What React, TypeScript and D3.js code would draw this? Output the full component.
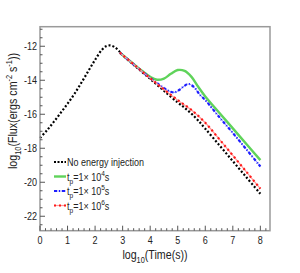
import React from 'react';
import * as d3 from 'd3';

// log10(Time) grid and log10(Flux) values
const noInjX = [0, 0.25, 0.5, 0.75, 1, 1.25, 1.5, 1.75, 2, 2.25, 2.4, 2.55, 2.7, 2.85, 3, 3.5, 4, 4.5, 5, 5.25, 5.5, 5.75, 6, 6.5, 7, 7.5, 8];
const noInjY = [-17.4, -16.95, -16.45, -15.92, -15.38, -14.8, -14.15, -13.47, -12.8, -12.2, -12.0, -11.95, -12.04, -12.25, -12.52, -13.23, -13.92, -14.62, -15.31, -15.62, -15.97, -16.38, -16.85, -17.8, -18.76, -19.72, -20.68];

const tp4X = [2.9, 3.5, 3.75, 4, 4.25, 4.5, 4.75, 5, 5.25, 5.5, 5.75, 6, 6.5, 7, 7.5, 8];
const tp4Y = [-12.38, -13.18, -13.5, -13.8, -13.97, -13.9, -13.62, -13.4, -13.45, -13.8, -14.4, -14.95, -15.9, -16.83, -17.77, -18.7];

const tp5X = [2.9, 3.5, 4, 4.25, 4.5, 4.75, 4.9, 5.1, 5.25, 5.4, 5.6, 5.8, 6, 6.5, 7, 7.5, 8];
const tp5Y = [-12.38, -13.2, -13.87, -14.17, -14.46, -14.68, -14.71, -14.52, -14.32, -14.22, -14.42, -14.85, -15.17, -16.15, -17.1, -18.08, -19.07];

const tp6X = [2.9, 3.5, 4, 4.5, 5, 5.5, 6, 6.5, 7, 7.5, 8];
const tp6Y = [-12.38, -13.2, -13.88, -14.54, -15.17, -15.75, -16.5, -17.45, -18.42, -19.4, -20.38];

const xTicks = [0, 1, 2, 3, 4, 5, 6, 7, 8];
const yTicks = [-22, -20, -18, -16, -14, -12];
const tpExp = ['4', '5', '6'];

const font = "'Liberation Sans', Arial, sans-serif";

// narrow text like the original Helvetica condensed
const NText = ({ x, y, rotate = 0, size, anchor = 'start', children }: any) => (
  <g transform={`translate(${x},${y}) rotate(${rotate}) scale(0.82,1)`}>
    <text fontSize={size} textAnchor={anchor} fill="#222">{children}</text>
  </g>
);

const App = () => {
  const width = 300;
  const height = 273;
  const x = d3.scaleLinear().domain([0, 8.35]).range([40, 270]);
  const y = d3.scaleLinear().domain([-22.85, -10.85]).range([230.7, 26.7]);

  const line = d3.line<number>()
    .x(d => x(d))
    .curve(d3.curveCatmullRom.alpha(0.5));
  const path = (xs: number[], ys: number[]) =>
    line.y((d, i) => y(ys[i]))(xs) || '';

  const xMinor = d3.range(0, 8.35, 0.2);
  const yMinor = d3.range(-22.5, -10.85, 0.5);

  const legendY = [162, 176.5, 191, 205.5];

  return (
    <svg width={width} height={height} style={{ position: 'absolute', left: 0, top: 0, background: '#fff' }} fontFamily={font}>
      {/* curves */}
      <path d={path(noInjX, noInjY)} fill="none" stroke="#000" strokeWidth={2.2} strokeDasharray="2,2" />
      <path d={path(tp4X, tp4Y)} fill="none" stroke="#5fd35a" strokeWidth={2.4} />
      <path d={path(tp5X, tp5Y)} fill="none" stroke="#8c8cff" strokeWidth={1} />
      <path d={path(tp5X, tp5Y)} fill="none" stroke="#1e1eff" strokeWidth={2.2} strokeDasharray="3,2,1,2" />
      <path d={path(tp6X, tp6Y)} fill="none" stroke="#ff9a9a" strokeWidth={1.2} />
      <path d={path(tp6X, tp6Y)} fill="none" stroke="#ff1a1a" strokeWidth={2.2} strokeDasharray="2,3" />

      {/* frame */}
      <rect x={40} y={26.7} width={230} height={204} fill="none" stroke="#9a9a9a" strokeWidth={1.5} />

      {/* x ticks */}
      {xMinor.map((t, i) => (
        <line key={'xm' + i} x1={x(t)} x2={x(t)} y1={230.7} y2={230.7 - (Math.abs(t - Math.round(t)) < 1e-6 ? 5 : 2.5)} stroke="#555" strokeWidth={1} />
      ))}
      {xTicks.map(t => (
        <NText key={'xl' + t} x={x(t)} y={244} size={11} anchor="middle">{t}</NText>
      ))}

      {/* y ticks */}
      {yMinor.map((t, i) => (
        <line key={'ym' + i} x1={40} x2={40 + (Math.abs(t - Math.round(t / 2) * 2) < 1e-6 ? 5 : 2.5)} y1={y(t)} y2={y(t)} stroke="#555" strokeWidth={1} />
      ))}
      {yTicks.map(t => (
        <NText key={'yl' + t} x={37} y={y(t) + 4} size={11} anchor="end">{t}</NText>
      ))}

      {/* axis titles */}
      <NText x={155} y={259} size={13} anchor="middle">
        log<tspan fontSize={9} dy={4}>10</tspan><tspan dy={-4}>(Time(s))</tspan>
      </NText>
      <NText x={17} y={111} rotate={-90} size={13} anchor="middle">
        log<tspan fontSize={9} dy={4}>10</tspan><tspan dy={-4}>(Flux(ergs cm</tspan><tspan fontSize={9} dy={-5}>-2</tspan><tspan dy={5}> s</tspan><tspan fontSize={9} dy={-5}>-1</tspan><tspan dy={5}>))</tspan>
      </NText>

      {/* legend */}
      <line x1={54} x2={66} y1={legendY[0]} y2={legendY[0]} stroke="#000" strokeWidth={2.2} strokeDasharray="2,1.5" />
      <NText x={67} y={legendY[0] + 4} size={11}>No energy injection</NText>
      <line x1={54} x2={66} y1={legendY[1]} y2={legendY[1]} stroke="#5fd35a" strokeWidth={2.4} />
      <line x1={54} x2={66} y1={legendY[2]} y2={legendY[2]} stroke="#8c8cff" strokeWidth={1} />
      <line x1={54} x2={66} y1={legendY[2]} y2={legendY[2]} stroke="#1e1eff" strokeWidth={2.2} strokeDasharray="3,2,1,2" />
      <line x1={54} x2={66} y1={legendY[3]} y2={legendY[3]} stroke="#ff9a9a" strokeWidth={1.2} />
      <line x1={54} x2={66} y1={legendY[3]} y2={legendY[3]} stroke="#ff1a1a" strokeWidth={2.2} strokeDasharray="2,3" />
      {tpExp.map((e, i) => (
        <NText key={'lg' + e} x={67} y={legendY[i + 1] + 4} size={11}>
          t<tspan fontSize={8} dy={3}>p</tspan><tspan dy={-3}>=1× 10</tspan><tspan fontSize={8} dy={-5}>{e}</tspan><tspan dy={5}>s</tspan>
        </NText>
      ))}
    </svg>
  );
};

export default App;
